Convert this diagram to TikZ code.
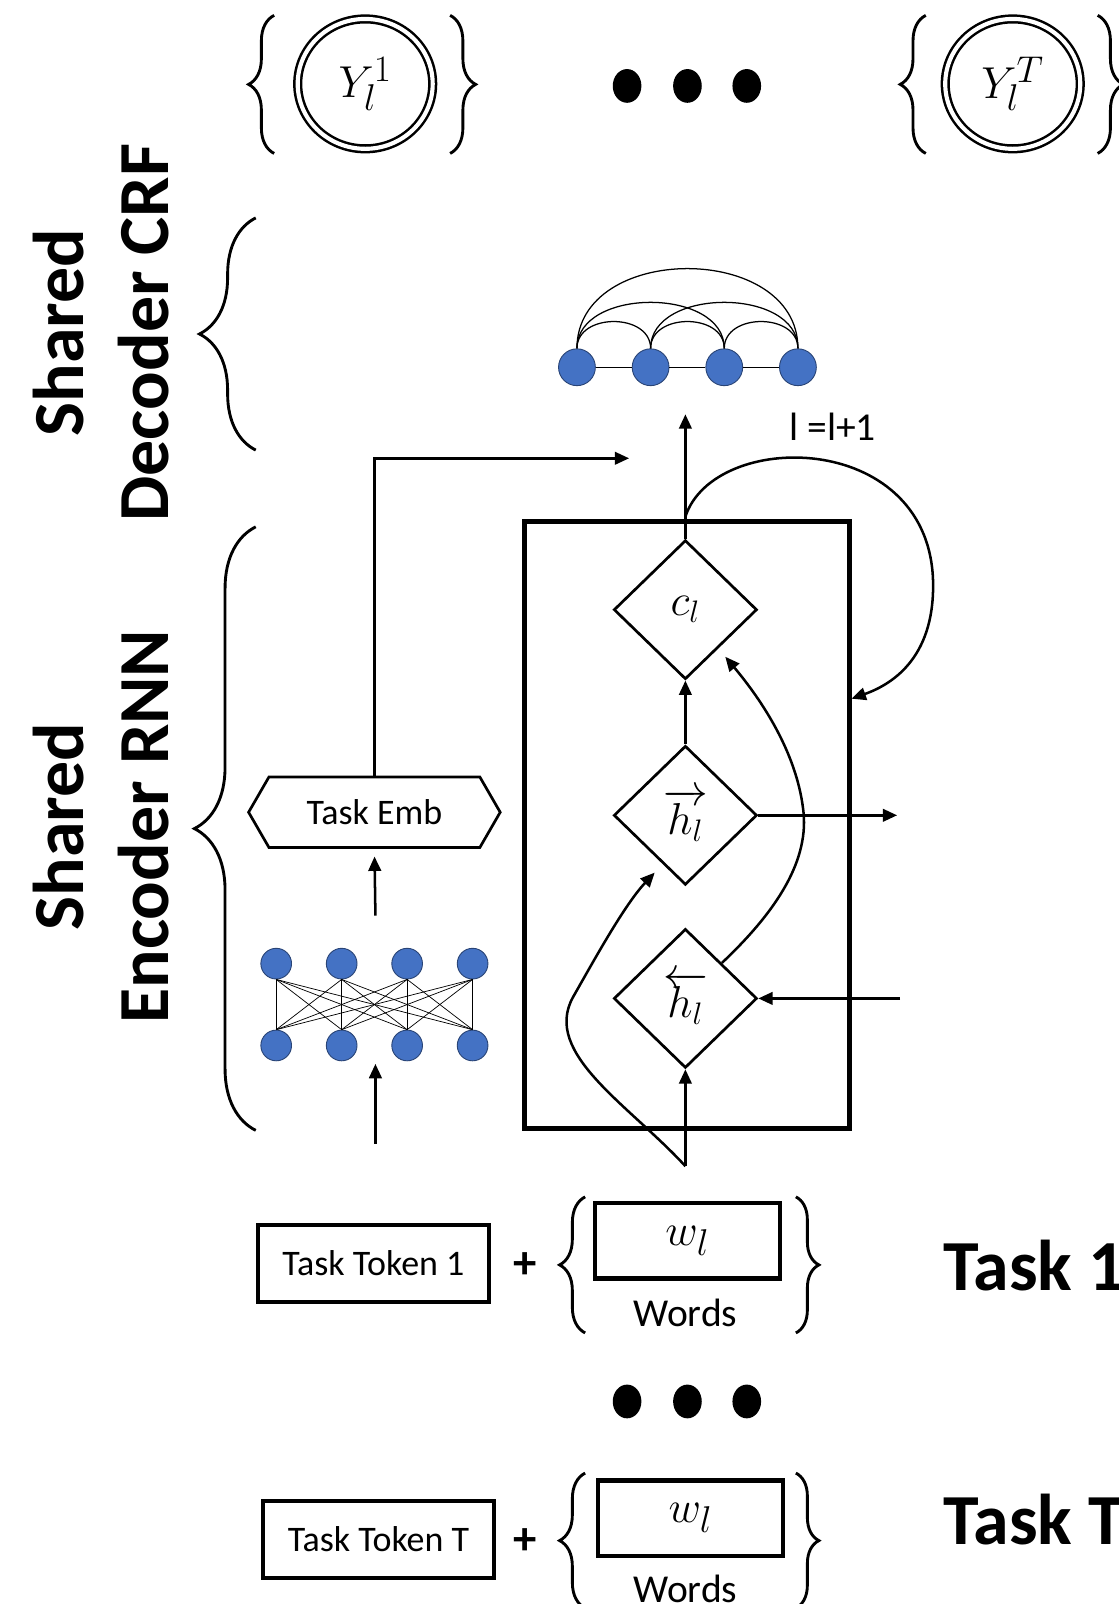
\documentclass[tikz,border=0pt]{standalone}
\usepackage{fontspec}
\setmainfont{Carlito}
\usetikzlibrary{shapes.geometric,shapes.symbols,arrows.meta,decorations.pathreplacing}
\definecolor{unitblue}{HTML}{4472C4}

\begin{document}
\begin{tikzpicture}[x=0.02cm,y=-0.02cm,
    conn/.style={line width=1.4pt,-{Triangle[length=8pt,width=7pt]}},
    gate/.style={diamond,draw,line width=1.5pt,minimum width=2.8cm,minimum height=2.72cm,inner sep=0pt,font=\fontsize{26}{30}\selectfont},
    nnunit/.style={circle,fill=unitblue,draw=unitblue!60!black,line width=0.5pt,minimum size=0.6cm,inner sep=0pt},
    bigdot/.style={ellipse,fill=black,minimum width=0.56cm,minimum height=0.66cm,inner sep=0pt},
    outnode/.style={ellipse,draw,double,double distance=2.3pt,line width=1.4pt,minimum width=2.64cm,minimum height=2.54cm,inner sep=0pt,font=\fontsize{28}{32}\selectfont},
    ybrace/.style={decorate,decoration={brace,amplitude=#1},line width=1.6pt},
    sidetext/.style={rotate=90,anchor=base,font=\fontsize{40}{48}\selectfont\bfseries},
    embbox/.style={signal,signal to=west and east,signal pointer angle=120,draw,line width=1.5pt,minimum width=4.92cm,minimum height=1.38cm,inner sep=0pt,font=\fontsize{20}{24}\selectfont},
    tokenbox/.style={draw,line width=2.2pt,minimum width=4.52cm,minimum height=1.5cm,font=\fontsize{20}{24}\selectfont},
    wordbox/.style={draw,line width=2.6pt,minimum width=3.62cm,minimum height=1.48cm,font=\fontsize{28}{32}\selectfont},
    tasktext/.style={anchor=base west,font=\fontsize{40}{48}\selectfont\bfseries},
  ]
\fill[white] (0,0) rectangle (1093,1568);
\useasboundingbox (0,0) rectangle (1093,1568);

% outputs per task
\draw[ybrace=0.5cm] (268,150) -- (268,15);
\node[outnode] (y1) at (357,82) {$Y_l^1$};
\draw[ybrace=0.5cm] (440,15) -- (440,150);
\foreach \x [count=\i] in {613,672,730} \node[bigdot] (topdot\i) at (\x,84) {};
\draw[ybrace=0.5cm] (905,150) -- (905,15);
\node[outnode] (yT) at (990,82) {$Y_l^T$};
\draw[ybrace=0.5cm] (1073,15) -- (1073,150);

% side labels
\node[sidetext] (crfa) at (82,325) {Shared};
\node[sidetext] (crfb) at (165,325) {Decoder CRF};
\draw[ybrace=1.1cm] (250,440) -- (250,213);
\node[sidetext] (rnna) at (82,808) {Shared};
\node[sidetext] (rnnb) at (165,808) {Encoder RNN};
\draw[ybrace=1.2cm] (250,1105) -- (250,515);

% CRF chain
\foreach \x [count=\i] in {564,636,708,780} \node[nnunit,minimum size=0.72cm] (crf\i) at (\x,359) {};
\draw[line width=0.8pt] (crf1) -- (crf2) -- (crf3) -- (crf4);
\foreach \a/\b/\h in {1/2/35,2/3/35,3/4/35,1/3/60,2/4/60,1/4/104}
  \draw[line width=0.7pt] (crf\a.north) .. controls +(0,-\h) and +(0,-\h) .. (crf\b.north);
\node[font=\fontsize{22}{26}\selectfont] (incr) at (814,417) {l =l+1};

% encoder cell
\node[draw,line width=2.8pt,minimum width=6.34cm,minimum height=11.86cm] (rnnbox) at (671.5,806.5) {};
\node[gate] (cl) at (670,596) {$c_l$};
\node[gate] (hf) at (670,797) {$\overrightarrow{h_l}$};
\node[gate] (hb) at (670,976) {$\overleftarrow{h_l}$};

\coordinate (crfin) at (670,405);
\coordinate (loopstart) at (670,505);
\coordinate (loopend) at (rnnbox.east |- 0,683);
\draw[conn] (cl.north) -- (crfin);
\draw[conn] (loopstart) .. controls (698,420) and (905,420) .. (912,565) .. controls (915,640) and (875,668) .. (loopend);

\draw[conn] (hf.north) -- (cl.south);
\coordinate (wordsin) at (670,1140);
\coordinate (hfin) at (640,853);
\coordinate (clin) at (709,642);
\draw[conn] (wordsin) -- (hb.south);
\draw[conn] (wordsin) .. controls (615,1080) and (530,1030) .. (560,975) .. controls (580,940) and (610,885) .. (hfin);
\draw[conn] (hb.north east) .. controls (760,890) and (792,840) .. (785,790) .. controls (778,735) and (745,685) .. (clin);

\coordinate (hfout) at (877,797);
\coordinate (hbin) at (880,976);
\draw[conn] (hf.east) -- (hfout);
\draw[conn] (hbin) -- (hb.east);

% task embedding
\node[embbox] (temb) at (366,794) {Task Emb};
\coordinate (embin) at (615,448);
\draw[conn] (temb.north) |- (embin);

\foreach \x [count=\i] in {270,334,398,462} {
  \node[nnunit] (top\i) at (\x,942) {};
  \node[nnunit] (bot\i) at (\x,1022) {};
}
\foreach \i in {1,...,4}
  \foreach \j in {1,...,4}
    \draw[line width=0.4pt] (top\i.south) -- (bot\j.north);
\coordinate (nnhead) at (367,895);
\coordinate (tokfoot) at (367,1118);
\coordinate (nnfoot) at (367,1040);
\draw[conn,shorten >=0.15cm] (nnhead) -- (temb.south);
\draw[conn] (tokfoot) -- (nnfoot);

% inputs
\node[tokenbox] (tok1) at (365,1235) {Task Token 1};
\node[font=\fontsize{26}{30}\selectfont\bfseries] (plus1) at (513,1237) {+};
\draw[ybrace=0.5cm] (572,1303) -- (572,1170);
\node[wordbox] (w1) at (672,1213) {$w_l$};
\node[font=\fontsize{22}{26}\selectfont] (words1) at (670,1283) {Words};
\draw[ybrace=0.45cm] (778,1170) -- (778,1303);
\node[tasktext] (task1) at (916,1262) {Task 1};

\foreach \x [count=\i] in {613,672,730} \node[bigdot] (middot\i) at (\x,1370) {};

\node[tokenbox] (tokT) at (370,1505) {Task Token T};
\node[font=\fontsize{26}{30}\selectfont\bfseries] (plusT) at (513,1507) {+};
\draw[ybrace=0.5cm] (572,1572) -- (572,1440);
\node[wordbox] (wT) at (675,1484) {$w_l$};
\node[font=\fontsize{22}{26}\selectfont] (wordsT) at (670,1553) {Words};
\draw[ybrace=0.45cm] (778,1440) -- (778,1572);
\node[tasktext] (taskT) at (916,1510) {Task T};
\end{tikzpicture}
\end{document}
